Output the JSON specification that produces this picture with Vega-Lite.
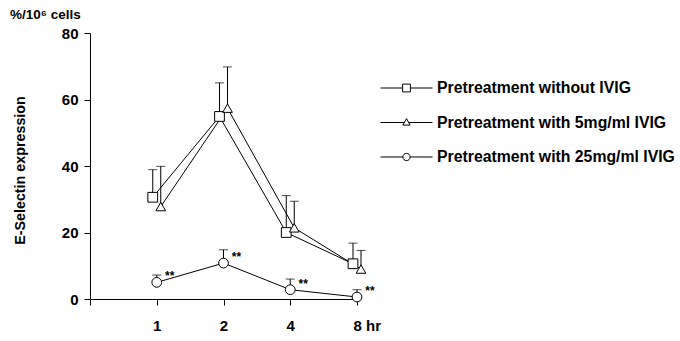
{
  "$schema": "https://vega.github.io/schema/vega-lite/v6.json",
  "autosize": "none",
  "width": 267,
  "height": 266,
  "padding": {"left": 90, "top": 33, "right": 323, "bottom": 42},
  "background": "white",
  "title": {"text": "%/10⁶ cells", "anchor": "start", "frame": "group", "dx": -80, "offset": 5, "fontSize": 13.5, "fontWeight": "bold", "font": "Liberation Sans", "color": "black"},
  "config": {
    "view": {"stroke": null},
    "axis": {"domainColor": "black", "tickColor": "black", "labelColor": "black", "titleColor": "black", "labelFont": "Liberation Sans", "titleFont": "Liberation Sans", "labelFontWeight": "bold", "titleFontWeight": "bold", "labelFontSize": 15, "titleFontSize": 14.3, "grid": false, "tickSize": 6}
  },
  "data": {"values": [
    {"hr": "1", "series": "Pretreatment without IVIG", "value": 30.6, "upper": 38.9, "sig": ""},
    {"hr": "2", "series": "Pretreatment without IVIG", "value": 54.9, "upper": 65.0, "sig": ""},
    {"hr": "4", "series": "Pretreatment without IVIG", "value": 20.0, "upper": 31.1, "sig": ""},
    {"hr": "8", "series": "Pretreatment without IVIG", "value": 10.6, "upper": 16.8, "sig": ""},
    {"hr": "1", "series": "Pretreatment with 5mg/ml IVIG", "value": 27.8, "upper": 39.9, "sig": ""},
    {"hr": "2", "series": "Pretreatment with 5mg/ml IVIG", "value": 57.4, "upper": 69.8, "sig": ""},
    {"hr": "4", "series": "Pretreatment with 5mg/ml IVIG", "value": 21.4, "upper": 29.4, "sig": ""},
    {"hr": "8", "series": "Pretreatment with 5mg/ml IVIG", "value": 9.0, "upper": 14.6, "sig": ""},
    {"hr": "1", "series": "Pretreatment with 25mg/ml IVIG", "value": 5.0, "upper": 7.2, "sig": "**"},
    {"hr": "2", "series": "Pretreatment with 25mg/ml IVIG", "value": 10.8, "upper": 14.8, "sig": "**"},
    {"hr": "4", "series": "Pretreatment with 25mg/ml IVIG", "value": 2.8, "upper": 6.0, "sig": "**"},
    {"hr": "8", "series": "Pretreatment with 25mg/ml IVIG", "value": 0.6, "upper": 2.8, "sig": "**"}
  ]},
  "encoding": {
    "x": {"field": "hr", "type": "ordinal", "scale": {"type": "point", "domain": ["0", "1", "2", "4", "8"], "padding": 0},
      "axis": {"title": null, "labelAngle": 0, "labelPadding": 13,
        "labelExpr": "datum.value === '0' ? '' : (datum.value === '8' ? '8 hr' : datum.label)",
        "labelAlign": {"condition": {"test": "datum.value === '8'", "value": "left"}, "value": "center"},
        "labelOffset": {"condition": {"test": "datum.value === '8'", "value": -4}, "value": 0}}},
    "xOffset": {"field": "series", "type": "nominal", "scale": {"type": "point", "domain": ["Pretreatment without IVIG", "Pretreatment with 25mg/ml IVIG", "Pretreatment with 5mg/ml IVIG"], "range": [-4, 4], "padding": 0}}
  },
  "layer": [
    {"mark": {"type": "rule", "color": "black", "strokeWidth": 1},
     "encoding": {
       "y": {"field": "value", "type": "quantitative", "scale": {"domain": [0, 80], "nice": false},
         "axis": {"values": [0, 20, 40, 60, 80], "title": "E-Selectin expression", "labelPadding": 6, "titleX": -70, "titleY": 137, "titleAngle": -90, "titleAlign": "center", "titleBaseline": "middle"}},
       "y2": {"field": "upper"}}},
    {"mark": {"type": "tick", "orient": "horizontal", "color": "black", "size": 9, "thickness": 1},
     "encoding": {"y": {"field": "upper", "type": "quantitative"}}},
    {"mark": {"type": "line", "color": "black", "strokeWidth": 1},
     "encoding": {"y": {"field": "value", "type": "quantitative"}, "detail": {"field": "series"}}},
    {"mark": {"type": "point", "filled": true, "fill": "white", "stroke": "black", "strokeWidth": 1, "opacity": 1},
     "encoding": {
       "y": {"field": "value", "type": "quantitative"},
       "shape": {"field": "series", "type": "nominal", "scale": {"domain": ["Pretreatment without IVIG", "Pretreatment with 5mg/ml IVIG", "Pretreatment with 25mg/ml IVIG"], "range": ["square", "triangle-up", "circle"]}, "legend": null},
       "size": {"field": "series", "type": "nominal", "scale": {"domain": ["Pretreatment without IVIG", "Pretreatment with 5mg/ml IVIG", "Pretreatment with 25mg/ml IVIG"], "range": [95, 95, 75]}, "legend": null}}},
    {"transform": [{"filter": "datum.sig === '**'"}],
     "mark": {"type": "text", "dx": 13, "dy": -6, "font": "Liberation Sans", "fontWeight": "bold", "fontSize": 12, "color": "black", "baseline": "middle"},
     "encoding": {"y": {"field": "value", "type": "quantitative"}, "text": {"field": "sig"}}},
    {"transform": [{"filter": "false"}],
     "mark": {"type": "point", "filled": false, "color": "black", "strokeWidth": 1, "opacity": 1},
     "encoding": {
       "y": {"field": "value", "type": "quantitative"},
       "shape": {"field": "series", "type": "nominal",
         "scale": {"domain": ["Pretreatment without IVIG", "Pretreatment with 5mg/ml IVIG", "Pretreatment with 25mg/ml IVIG"],
           "range": ["M-1,0H-0.15M0.15,0H1M-0.15,-0.15H0.15V0.15H-0.15Z", "M-1,0H-0.08M0.08,0H1M0,-0.15L0.14,0.1H-0.14Z", "M-1,0H-0.14M0.14,0H1M-0.14,0A0.14,0.14,0,1,0,0.14,0A0.14,0.14,0,1,0,-0.14,0Z"]},
         "legend": {"orient": "none", "legendX": 290, "legendY": 45, "title": null, "padding": 0, "symbolSize": 2704, "symbolFillColor": "white", "symbolStrokeColor": "black", "symbolStrokeWidth": 1, "symbolOpacity": 1, "labelFont": "Liberation Sans", "labelFontWeight": "bold", "labelFontSize": 15.8, "labelColor": "black", "labelOffset": 4, "clipHeight": 20, "rowPadding": 14.5, "labelLimit": 400}}}}
  ],
  "resolve": {"scale": {"shape": "independent", "size": "independent"}, "legend": {"shape": "independent"}}
}
